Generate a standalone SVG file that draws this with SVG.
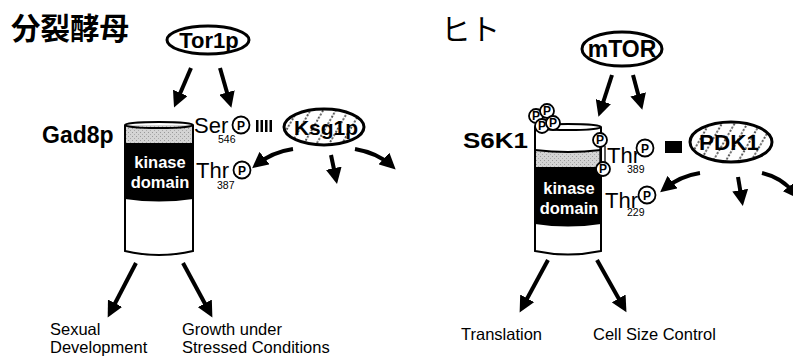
<svg xmlns="http://www.w3.org/2000/svg" width="793" height="358" viewBox="0 0 793 358">
<style>
.t{font-family:"Liberation Sans",Arial,sans-serif;fill:#000}
.b{font-weight:bold}
.w{fill:#fff}
.jp{font-family:"Noto Sans CJK JP","Noto Sans CJK SC",sans-serif;font-size:29.5px}
.ell{fill:#fff;stroke:#000;stroke-width:3}
.hat{fill:url(#hatch);stroke:#000;stroke-width:3}
.pc{fill:#fff;stroke:#000;stroke-width:1.8}
.pt{font-family:"Liberation Sans",Arial,sans-serif;font-size:12px;font-weight:bold;text-anchor:middle}
.arr{fill:none;stroke:#000;stroke-width:4;marker-end:url(#ah)}
.cyl{stroke:#000;stroke-width:2}
.out{font-size:16.5px}
</style>
<defs>
<marker id="ah" markerUnits="userSpaceOnUse" markerWidth="18" markerHeight="16" refX="11" refY="8" orient="auto">
<path d="M0,0 L16,8 L0,16 z" fill="#000"/>
</marker>
<pattern id="hatch" patternUnits="userSpaceOnUse" width="11" height="11" patternTransform="rotate(30)">
<rect width="11" height="11" fill="#fff"/>
<line x1="5" y1="0" x2="5" y2="11" stroke="#000" stroke-width="1.3" stroke-dasharray="2,1.7"/>
</pattern>
<pattern id="stip" patternUnits="userSpaceOnUse" width="4" height="4">
<rect width="4" height="4" fill="#d4d4d4"/>
<rect x="0" y="0" width="1" height="1" fill="#999"/>
<rect x="2" y="2" width="1" height="1" fill="#aaa"/>
</pattern>
</defs>

<!-- titles -->
<g id="title-yeast"><text class="jp" x="11" y="39" font-weight="bold">分裂酵母</text></g>
<g id="title-human"><text class="jp" x="441" y="40">ヒト</text></g>

<!-- Left panel -->
<g id="tor1p">
<ellipse class="ell" cx="208" cy="40" rx="41" ry="14"/>
<text class="t b" x="209" y="48" font-size="22" text-anchor="middle">Tor1p</text>
</g>

<g id="gad8p">
<text class="t b" x="42" y="143" font-size="23">Gad8p</text>
<path d="M125,125 L193,125 L193,143 L125,143 z" fill="url(#stip)"/>
<path d="M125,143 L193,143 L193,199 Q159,204 125,199 z" fill="#000"/>
<path class="cyl" d="M125,125 L125,251 Q159,259 193,251 L193,125" fill="none"/>
<ellipse class="cyl" cx="159" cy="125" rx="34" ry="3" fill="none"/>
<text class="t b w" x="160" y="168" font-size="16.5" text-anchor="middle">kinase</text>
<text class="t b w" x="160" y="188" font-size="16.5" text-anchor="middle">domain</text>
</g>

<g id="ser546">
<text class="t" x="194" y="133" font-size="22">Ser</text>
<text class="t" x="218" y="143" font-size="10.5">546</text>
<circle class="pc" cx="241" cy="125" r="8.5"/>
<text class="pt" x="241" y="129.5">P</text>
</g>

<g id="bars">
<rect x="256" y="120" width="2.5" height="12"/>
<rect x="260.5" y="120" width="2.5" height="12"/>
<rect x="265" y="120" width="2.5" height="12"/>
<rect x="269.5" y="120" width="2.5" height="12"/>
</g>

<g id="thr387">
<text class="t" x="196" y="178" font-size="22">Thr</text>
<text class="t" x="217" y="189" font-size="10.5">387</text>
<circle class="pc" cx="242" cy="170" r="8.5"/>
<text class="pt" x="242" y="174.5">P</text>
</g>

<g id="ksg1p">
<ellipse class="hat" cx="324" cy="127" rx="40" ry="18"/>
<text class="t b" x="326" y="135" font-size="21" text-anchor="middle">Ksg1p</text>
</g>

<g id="out-sexual">
<text class="t out" x="50" y="335">Sexual</text>
<text class="t out" x="50" y="353">Development</text>
</g>
<g id="out-stress">
<text class="t out" x="182" y="335">Growth under</text>
<text class="t out" x="182" y="353">Stressed Conditions</text>
</g>

<!-- Right panel -->
<g id="mtor">
<ellipse class="ell" cx="622" cy="49" rx="40" ry="17"/>
<text class="t b" x="622" y="57" font-size="23" text-anchor="middle">mTOR</text>
</g>

<g id="s6k1">
<text class="t b" x="463" y="148" font-size="22" textLength="65" lengthAdjust="spacingAndGlyphs">S6K1</text>
<path d="M535,150 Q568,154 601,150 L601,167 L535,167 z" fill="url(#stip)"/>
<path d="M535,167 L601,167 L601,224 Q568,229 535,224 z" fill="#000"/>
<path class="cyl" d="M535,150 Q568,154 601,150" fill="none"/>
<path class="cyl" d="M535,127 L535,251 Q568,258 601,251 L601,127" fill="none"/>
<ellipse class="cyl" cx="568" cy="127" rx="33" ry="3" fill="none"/>
<text class="t b w" x="569" y="194" font-size="16.5" text-anchor="middle">kinase</text>
<text class="t b w" x="569" y="214" font-size="16.5" text-anchor="middle">domain</text>
<circle class="pc" cx="536" cy="116" r="7"/>
<text class="pt" x="536" y="120" font-size="11">P</text>
<circle class="pc" cx="547" cy="111" r="7"/>
<text class="pt" x="547" y="115" font-size="11">P</text>
<circle class="pc" cx="542" cy="126" r="7"/>
<text class="pt" x="542" y="130" font-size="11">P</text>
<circle class="pc" cx="553" cy="123" r="7"/>
<text class="pt" x="553" y="127" font-size="11">P</text>
<line x1="600" y1="146" x2="600" y2="163" stroke="#000" stroke-width="1.3"/>
<line x1="605" y1="146" x2="605" y2="163" stroke="#000" stroke-width="1.3"/>
<circle class="pc" cx="600" cy="140" r="7"/>
<text class="pt" x="600" y="144" font-size="11">P</text>
<circle class="pc" cx="603" cy="169" r="7"/>
<text class="pt" x="603" y="173" font-size="11">P</text>
</g>

<g id="thr389">
<text class="t" x="607" y="163" font-size="22">Thr</text>
<text class="t" x="627" y="173" font-size="10.5">389</text>
<circle class="pc" cx="645" cy="148" r="8.5"/>
<text class="pt" x="645" y="152.5">P</text>
</g>

<g id="block">
<rect x="665" y="141" width="17" height="12"/>
</g>

<g id="pdk1">
<ellipse class="hat" cx="731" cy="142" rx="41" ry="20"/>
<text class="t b" x="729" y="150" font-size="22.5" text-anchor="middle">PDK1</text>
</g>

<g id="thr229">
<text class="t" x="605" y="208" font-size="22">Thr</text>
<text class="t" x="627" y="216" font-size="10.5">229</text>
<circle class="pc" cx="647" cy="195" r="8.5"/>
<text class="pt" x="647" y="199.5">P</text>
</g>

<g id="out-translation"><text class="t out" x="461" y="340">Translation</text></g>
<g id="out-cellsize"><text class="t out" x="593" y="340">Cell Size Control</text></g>

<!-- connectors -->
<g id="connectors">
<line class="arr" x1="191" y1="68" x2="176" y2="103"/>
<line class="arr" x1="220" y1="68" x2="230" y2="103"/>
<path class="arr" d="M293,149 Q272,152 256,165"/>
<line class="arr" x1="331" y1="155" x2="336" y2="179"/>
<path class="arr" d="M355,149 Q378,153 392,166"/>
<line class="arr" x1="136" y1="263" x2="110" y2="313"/>
<line class="arr" x1="183" y1="263" x2="210" y2="313"/>

<line class="arr" x1="612" y1="75" x2="600" y2="112"/>
<line class="arr" x1="633" y1="75" x2="641" y2="105"/>
<path class="arr" d="M700,173 Q680,176 664,189"/>
<line class="arr" x1="738" y1="177" x2="742" y2="201"/>
<path class="arr" d="M762,173 Q783,178 796,195"/>
<line class="arr" x1="548" y1="260" x2="522" y2="308"/>
<line class="arr" x1="597" y1="260" x2="624" y2="308"/>
</g>
</svg>
